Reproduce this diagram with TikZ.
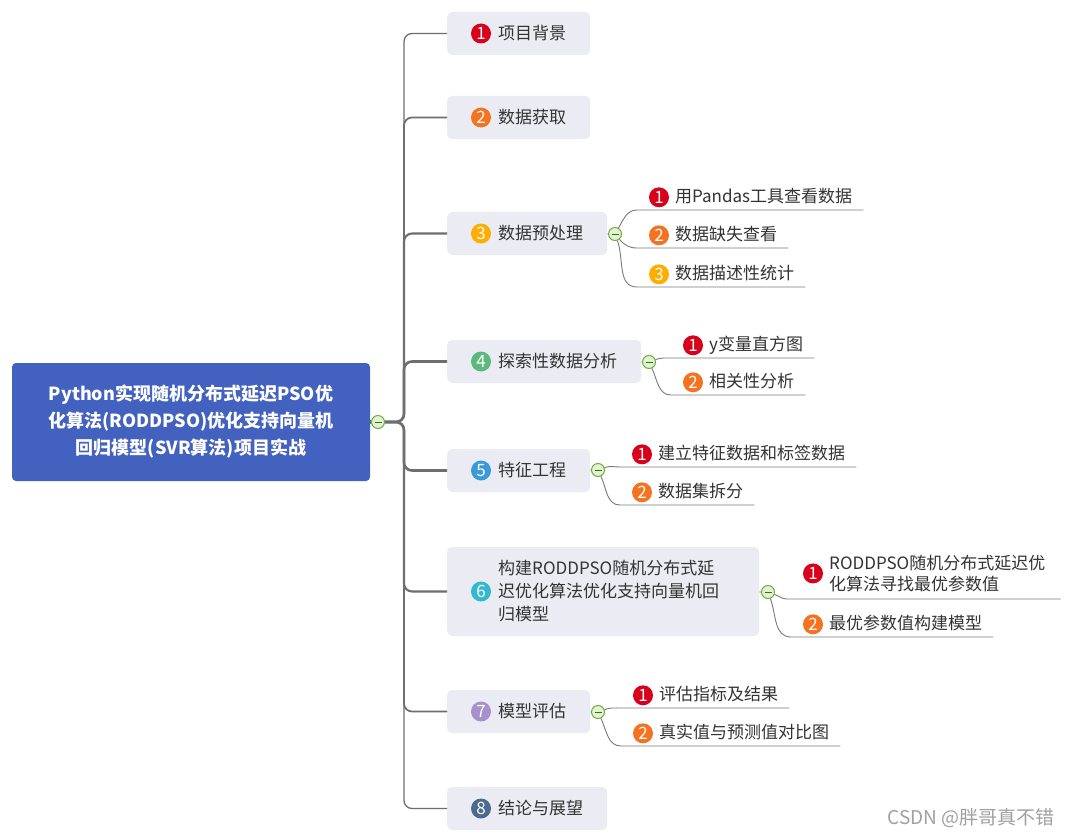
\documentclass[tikz,border=0pt]{standalone}
\usepackage{fontspec}
\setmainfont{Noto Sans CJK SC}
\usetikzlibrary{positioning}

\definecolor{rootblue}{HTML}{4361BE}
\definecolor{boxgray}{HTML}{EBECF3}
\definecolor{txt}{HTML}{333333}
\definecolor{linegray}{HTML}{6E6E6E}
\definecolor{twiggray}{HTML}{7A7A7A}
\definecolor{foldgreen}{HTML}{6BAF3E}
\definecolor{foldfill}{HTML}{E3F2D0}
\definecolor{wmgray}{HTML}{A0A0A0}
\definecolor{cred}{HTML}{D8001B}
\definecolor{corange}{HTML}{F57320}
\definecolor{camber}{HTML}{FFAD00}
\definecolor{cgreen}{HTML}{5BB97B}
\definecolor{cblue}{HTML}{3A9AD9}
\definecolor{cteal}{HTML}{33B8CF}
\definecolor{cpurple}{HTML}{A691CC}
\definecolor{cslate}{HTML}{4B6A8F}

\newcommand\fs{\fontsize{17}{23}\selectfont}
\newcommand\gap{\hspace*{27pt}}

\tikzset{
  root/.style={fill=rootblue, rounded corners=4pt, text=white, font=\fontsize{18}{27}\selectfont\bfseries, align=center, minimum width=358pt, minimum height=118pt},
  topic/.style={fill=boxgray, rounded corners=5pt, text=txt, font=\fs, inner xsep=24pt, minimum height=43pt, anchor=west},
  leaf/.style={text=txt, font=\fs, inner xsep=11pt, inner ysep=3.5pt, text height=14pt, text depth=4pt, anchor=south west},
  badge/.style={circle, fill=#1, text=white, inner sep=0pt, minimum size=20pt, font=\fontsize{17}{17}\selectfont},
  fold/.style={circle, draw=foldgreen, fill=foldfill, line width=1pt, minimum size=13pt, inner sep=0pt,
    path picture={\draw[foldgreen!60!black, line width=1pt] ([xshift=-3.5pt]path picture bounding box.center) -- ([xshift=3.5pt]path picture bounding box.center);}},
  trunk/.style={draw=linegray, rounded corners=8pt},
  twig/.style={draw=twiggray, line width=0.9pt},
}

\begin{document}
\begin{tikzpicture}[x=1pt, y=-1pt]
  \useasboundingbox[fill=white] (0,0) rectangle (1073,837);

  % root
  \node[root] (r) at (191,422) {Python实现随机分布式延迟PSO优\\化算法(RODDPSO)优化支持向量机\\回归模型(SVR算法)项目实战};
  \node[fold] (m0) at (378,422) {};

  % main topics
  \node[topic] (b1) at (447,33.5)  {\gap 项目背景};
  \node[topic] (b2) at (447,117.5) {\gap 数据获取};
  \node[topic] (b3) at (447,233.5) {\gap 数据预处理};
  \node[topic] (b4) at (447,361.5) {\gap 探索性数据分析};
  \node[topic] (b5) at (447,470.5) {\gap 特征工程};
  \node[topic, align=left, text width=264pt, minimum height=89pt] (b6) at (447,591.5)
    {\gap 构建RODDPSO随机分布式延\\\gap 迟优化算法优化支持向量机回\\\gap 归模型};
  \node[topic] (b7) at (447,711.5) {\gap 模型评估};
  \node[topic] (b8) at (447,808.5) {\gap 结论与展望};

  \foreach \b/\c/\n in {b1/cred/1, b2/corange/2, b3/camber/3, b4/cgreen/4, b5/cblue/5, b6/cteal/6, b7/cpurple/7, b8/cslate/8}
    \node[badge=\c] at ([xshift=34pt]\b.west) {\n};

  \foreach \b/\w in {b1/1.3, b2/1.7, b3/2.1, b4/2.6, b5/2.6, b6/2.1, b7/1.7, b8/1.3}
    \draw[trunk, line width=\w pt] (m0.east) -| ([xshift=-43pt]\b.west) -- (\b.west);
  \draw[trunk, line width=3.4pt] (r.east) -- (m0);

  % folds
  \node[fold] (m3) at (615,234) {};
  \node[fold] (m4) at (649,362) {};
  \node[fold] (m5) at (598,470) {};
  \node[fold] (m6) at (768,592) {};
  \node[fold] (m7) at (598,712) {};
  \foreach \i in {3,4,5,6,7}
    \draw[twig] (b\i) -- (m\i);

  % sub topics
  \node[leaf] (c31) at (637,210) {\gap 用Pandas工具查看数据};
  \node[leaf] (c32) at (637,248) {\gap 数据缺失查看};
  \node[leaf] (c33) at (637,287) {\gap 数据描述性统计};
  \node[leaf] (c41) at (671,358) {\gap y变量直方图};
  \node[leaf] (c42) at (671,395) {\gap 相关性分析};
  \node[leaf] (c51) at (620,467) {\gap 建立特征数据和标签数据};
  \node[leaf] (c52) at (620,505) {\gap 数据集拆分};
  \node[leaf, align=left, font=\fontsize{17}{21}\selectfont, text height={}, text depth={}, inner ysep=7pt, inner xsep=15pt] (c61) at (787,599)
    {\gap RODDPSO随机分布式延迟优\\\gap 化算法寻找最优参数值};
  \node[leaf] (c62) at (791,637) {\gap 最优参数值构建模型};
  \node[leaf] (c71) at (621,708) {\gap 评估指标及结果};
  \node[leaf] (c72) at (621,746) {\gap 真实值与预测值对比图};

  \foreach \c/\k/\n in {c31/cred/1, c32/corange/2, c33/camber/3, c41/cred/1, c42/corange/2, c51/cred/1, c52/corange/2, c62/corange/2, c71/cred/1, c72/corange/2}
    \node[badge=\k] at ([xshift=22pt]\c.west) {\n};
  \node[badge=cred] at ([xshift=26pt]c61.west) {1};

  \draw[twig] (m3) to[out=60,in=180]  (c31.south west) -- (c31.south east);
  \draw[twig] (m3) to[out=-50,in=180] (c32.south west) -- (c32.south east);
  \draw[twig] (m3) to[out=-70,in=180] (c33.south west) -- (c33.south east);
  \draw[twig] (m4) to[out=20,in=180]  (c41.south west) -- (c41.south east);
  \draw[twig] (m4) to[out=-65,in=180] (c42.south west) -- (c42.south east);
  \draw[twig] (m5) to[out=20,in=180]  (c51.south west) -- (c51.south east);
  \draw[twig] (m5) to[out=-65,in=180] (c52.south west) -- (c52.south east);
  \draw[twig] (m6) to[out=-20,in=180] (c61.south west) -- (c61.south east);
  \draw[twig] (m6) to[out=-70,in=180] (c62.south west) -- (c62.south east);
  \draw[twig] (m7) to[out=20,in=180]  (c71.south west) -- (c71.south east);
  \draw[twig] (m7) to[out=-65,in=180] (c72.south west) -- (c72.south east);

  \node[font=\fontsize{19}{19}\selectfont, text=wmgray, anchor=east] (wm) at (1058,818) {CSDN @胖哥真不错};
\end{tikzpicture}
\end{document}
